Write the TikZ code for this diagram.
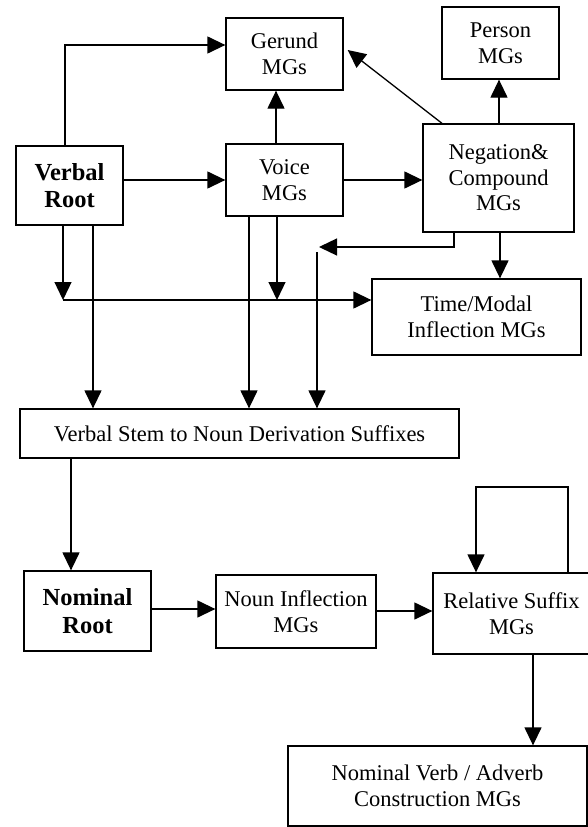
\documentclass[tikz,border=0pt]{standalone}
\usepackage{fontspec}
\setmainfont{Liberation Serif}
\usetikzlibrary{arrows.meta, positioning, calc}

\tikzset{
  mgbox/.style={draw, line width=1.3pt, align=center, inner sep=0pt,
    font=\fontsize{22.5}{25.5}\selectfont},
  rootbox/.style={mgbox, font=\fontsize{24.5}{27.5}\selectfont\bfseries},
  arr/.style={-{Triangle[length=18pt,width=17pt]}, line width=1.3pt}
}

\begin{document}
\begin{tikzpicture}[x=1pt, y=-1pt]
      \useasboundingbox (0,0) rectangle (588,827);

      % verbal part
      \node[rootbox, minimum width=107pt, minimum height=79pt] (vroot) at (69.5,185.5) {Verbal\\Root};
      \node[mgbox, minimum width=117pt, minimum height=72pt] (gerund) at (284.5,54) {Gerund\\MGs};
      \node[mgbox, minimum width=117pt, minimum height=72pt] (voice) at (284.5,180) {Voice\\MGs};
      \node[mgbox, minimum width=117pt, minimum height=72pt] (person) at (500.5,43) {Person\\MGs};
      \node[mgbox, minimum width=151pt, minimum height=108pt] (negation) at (498.5,178) {Negation\&\\Compound\\MGs};
      \node[mgbox, minimum width=209pt, minimum height=76pt] (timemodal) at (476.5,317) {Time/Modal\\Inflection MGs};

      % derivation
      \node[mgbox, minimum width=439pt, minimum height=49pt] (stem) at (239.5,433.5) {Verbal Stem to Noun Derivation Suffixes};

      % nominal part
      \node[rootbox, minimum width=127pt, minimum height=80pt] (nroot) at (87.5,611) {Nominal\\Root};
      \node[mgbox, minimum width=160pt, minimum height=73pt] (ninfl) at (296,611.5) {Noun Inflection\\MGs};
      \node[mgbox, minimum width=157pt, minimum height=81pt] (relsuf) at (511.5,613.5) {Relative Suffix\\MGs};
      \node[mgbox, minimum width=299pt, minimum height=80pt] (nverb) at (437.5,786) {Nominal Verb / Adverb\\Construction MGs};

      % free ends
      \coordinate (vjoin) at (63,300);
      \coordinate (vvjoin) at (277,300);
      \coordinate (negturn) at (319,247);
      \coordinate (negdown) at (317,252);
      \coordinate (looptop) at (568,487);

      % arrows top
      \draw[arr] (65,0 |- vroot.north) |- (226,45 -| gerund.west);
      \draw[arr] (vroot.east |- voice.west) -- (voice.west);
      \draw[arr] (276,0 |- voice.north) -- (276,0 |- gerund.south);
      \draw[arr] (voice.east) -- (voice.east -| negation.west);
      \draw[arr] (499,0 |- negation.north) -- (499,0 |- person.south);
      \draw[arr] (442,0 |- negation.north) -- ([shift={(4pt,4pt)}]gerund.east);
      \draw[arr] (500,0 |- negation.south) -- (500,0 |- timemodal.north);
      \draw[arr] (454,0 |- negation.south) |- (negturn);

      % arrows middle
      \draw[arr] (63,0 |- vroot.south) -- (vjoin);
      \draw[arr] (vjoin) -- (vjoin -| timemodal.west);
      \draw[arr] (277,0 |- voice.south) -- (vvjoin);
      \draw[arr] (93,0 |- vroot.south) -- (93,0 |- stem.north);
      \draw[arr] (249,0 |- voice.south) -- (249,0 |- stem.north);
      \draw[arr] (negdown) -- (negdown |- stem.north);

      % arrows bottom
      \draw[arr] (71,0 |- stem.south) -- (71,0 |- nroot.north);
      \draw[arr] (nroot.east |- 0,609) -- (ninfl.west |- 0,609);
      \draw[arr] (ninfl.east |- 0,611) -- (relsuf.west |- 0,611);
      \draw[arr] (looptop |- relsuf.north) -- (looptop) -| (476,0 |- relsuf.north);
      \draw[arr] (533,0 |- relsuf.south) -- (533,0 |- nverb.north);
    \end{tikzpicture}
\end{document}
